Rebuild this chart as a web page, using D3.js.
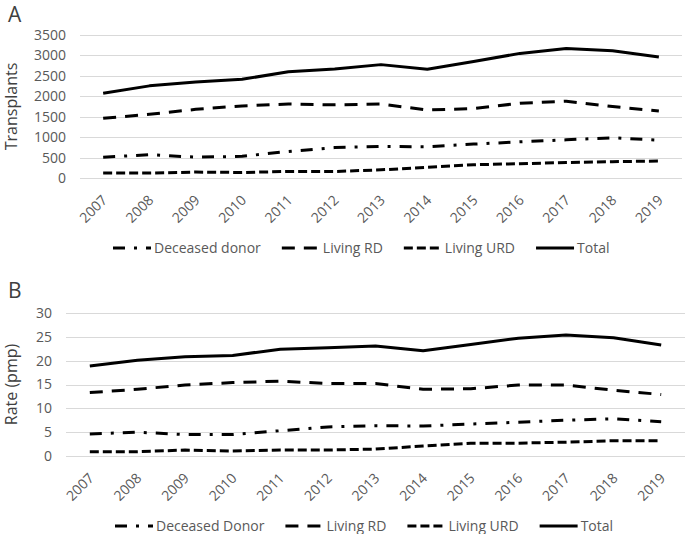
<!DOCTYPE html>
<html>
<head>
<meta charset="utf-8">
<script src="https://cdn.jsdelivr.net/npm/d3@7"></script>
<style>
  html, body { margin: 0; padding: 0; background: #fff; }
  svg { display: block; font-family: "Open Sans", sans-serif; }
</style>
</head>
<body>
<svg id="chart" width="685" height="534"></svg>
<script>
// ---- Data ----
const years = ["2007","2008","2009","2010","2011","2012","2013","2014","2015","2016","2017","2018","2019"];

// Panel A: number of transplants
const transplantsDeceased = [510, 570, 510, 530, 650, 745, 770, 765, 830, 885, 935, 985, 925];
const transplantsLivingRD = [1460, 1560, 1680, 1765, 1810, 1790, 1810, 1665, 1700, 1830, 1880, 1750, 1640];
const transplantsLivingURD = [120, 120, 145, 135, 160, 160, 200, 260, 325, 350, 380, 400, 415];
const transplantsTotal = [2075, 2255, 2350, 2415, 2600, 2670, 2775, 2660, 2850, 3050, 3170, 3115, 2960];
const transplantTicks = [0, 500, 1000, 1500, 2000, 2500, 3000, 3500];

// Panel B: rate per million population
const rateDeceased = [4.6, 5.0, 4.5, 4.5, 5.3, 6.1, 6.35, 6.3, 6.7, 7.1, 7.5, 7.8, 7.2];
const rateLivingRD = [13.3, 14.0, 14.9, 15.4, 15.7, 15.2, 15.2, 14.0, 14.1, 14.9, 14.9, 13.8, 12.9];
const rateLivingURD = [0.9, 0.9, 1.25, 1.05, 1.25, 1.25, 1.45, 2.1, 2.65, 2.7, 2.9, 3.2, 3.2];
const rateTotal = [18.9, 20.1, 20.8, 21.1, 22.4, 22.7, 23.1, 22.1, 23.4, 24.7, 25.4, 24.8, 23.3];
const rateTicks = [0, 5, 10, 15, 20, 25, 30];

const seriesNamesA = ["Deceased donor", "Living RD", "Living URD", "Total"];
const seriesNamesB = ["Deceased Donor", "Living RD", "Living URD", "Total"];

// ---- Styles ----
const dashes = ["12,9,3,9", "13,9", "9,4", null];
const TEXT = "#595959";
const GRID = "#d9d9d9";

const svg = d3.select("#chart");

function panel(cfg) {
  const g = svg.append("g");
  const x = d3.scaleBand().domain(years).range([cfg.left, cfg.right]).padding(0);
  const xc = d => x(d) + x.bandwidth() / 2;
  const y = d3.scaleLinear().domain([0, d3.max(cfg.ticks)]).range([cfg.bottom, cfg.top]);

  // panel letter
  g.append("text").attr("x", 8).attr("y", cfg.letterY)
    .attr("font-size", 21).attr("fill", "#404040").text(cfg.letter);

  // gridlines
  g.append("g").selectAll("line").data(cfg.ticks).join("line")
    .attr("x1", cfg.left).attr("x2", cfg.right)
    .attr("y1", d => Math.round(y(d)) + 0.5).attr("y2", d => Math.round(y(d)) + 0.5)
    .attr("stroke", GRID).attr("stroke-width", 1);

  // y axis via d3.axisLeft
  const yAxis = g.append("g").attr("transform", `translate(${cfg.left},0)`)
    .call(d3.axisLeft(y).tickValues(cfg.ticks).tickSize(0).tickPadding(cfg.tickPad).tickFormat(d3.format("d")));
  yAxis.select(".domain").remove();
  yAxis.selectAll("text").attr("font-size", 14).attr("fill", TEXT).attr("font-family", "Open Sans");

  // x axis labels
  const xAxis = g.append("g").attr("transform", `translate(0,${cfg.bottom})`)
    .call(d3.axisBottom(x).tickSize(0).tickPadding(0));
  xAxis.select(".domain").remove();
  xAxis.selectAll("text")
    .attr("font-size", 14).attr("fill", TEXT).attr("font-family", "Open Sans")
    .attr("text-anchor", "end")
    .attr("dy", null).attr("y", null)
    .attr("transform", `translate(${cfg.xlabDx},${cfg.xlabDy}) rotate(-45)`);

  // y title
  g.append("text")
    .attr("transform", `translate(${cfg.titleX},${(cfg.top + cfg.bottom) / 2}) rotate(-90)`)
    .attr("text-anchor", "middle").attr("font-size", 16).attr("fill", "#404040")
    .text(cfg.title);

  // lines
  const line = d3.line().x((d, i) => xc(years[i])).y(d => y(d));
  cfg.series.forEach((s, i) => {
    g.append("path").datum(s).attr("d", line)
      .attr("fill", "none").attr("stroke", "#000").attr("stroke-width", 3)
      .attr("stroke-linejoin", "round")
      .attr("stroke-dasharray", dashes[i]);
  });

  // legend
  const leg = g.append("g").attr("transform", `translate(${cfg.legendX},${cfg.legendY})`);
  let cx = 0;
  cfg.names.forEach((n, i) => {
    leg.append("line").attr("x1", cx).attr("x2", cx + 38).attr("y1", 0).attr("y2", 0)
      .attr("stroke", "#000").attr("stroke-width", 3).attr("stroke-dasharray", dashes[i]);
    const t = leg.append("text").attr("x", cx + 41).attr("y", 0).attr("dy", "0.35em")
      .attr("font-size", 14).attr("fill", TEXT).text(n);
    cx += 41 + t.node().getComputedTextLength() + 21;
  });
}

panel({
  letter: "A", letterY: 22, title: "Transplants", titleX: 17,
  left: 80, right: 682, top: 35, bottom: 178, ticks: transplantTicks, tickPad: 14,
  xlabDx: 5, xlabDy: 23,
  series: [transplantsDeceased, transplantsLivingRD, transplantsLivingURD, transplantsTotal],
  names: seriesNamesA, legendX: 113, legendY: 248
});

panel({
  letter: "B", letterY: 298, title: "Rate (pmp)", titleX: 17,
  left: 66, right: 685, top: 313, bottom: 456, ticks: rateTicks, tickPad: 14,
  xlabDx: 5, xlabDy: 23,
  series: [rateDeceased, rateLivingRD, rateLivingURD, rateTotal],
  names: seriesNamesB, legendX: 115, legendY: 526
});
</script>
</body>
</html>
